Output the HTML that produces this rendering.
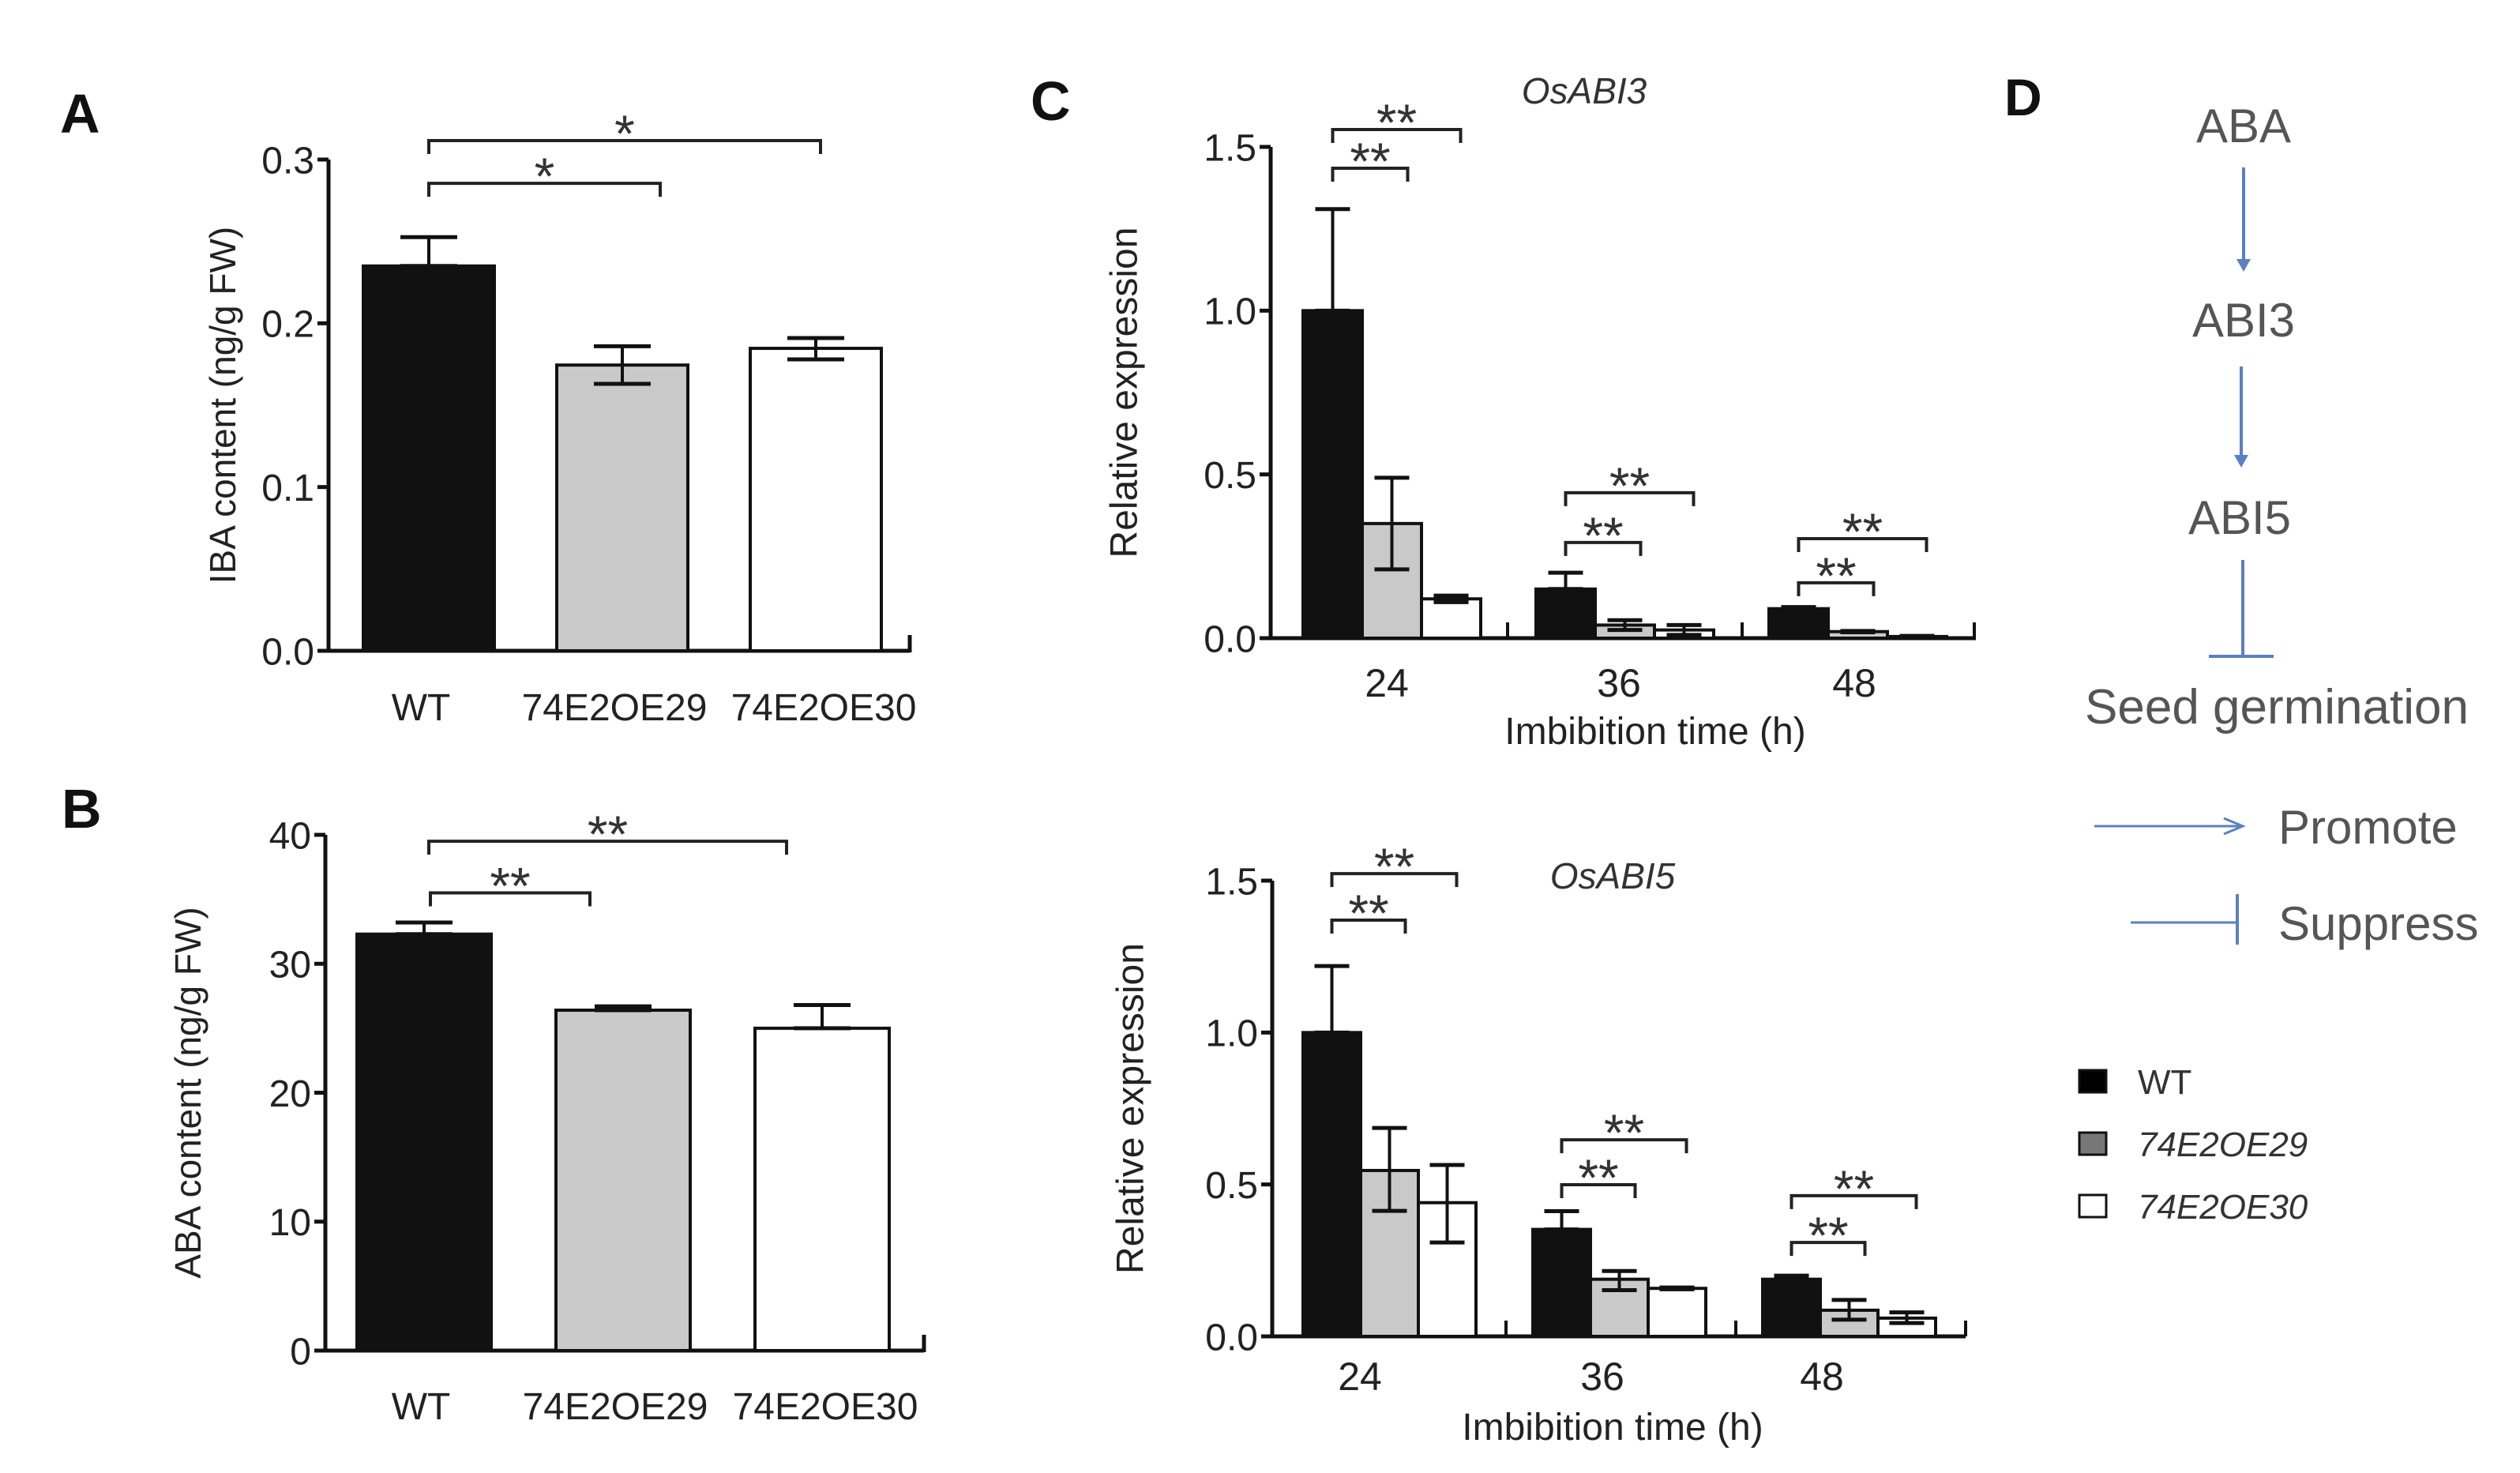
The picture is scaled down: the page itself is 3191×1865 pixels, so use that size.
<!DOCTYPE html>
<html><head><meta charset="utf-8"><style>
html,body{margin:0;padding:0;background:#fff}
svg{display:block}
text{font-family:"Liberation Sans",sans-serif}
</style></head><body>
<svg id="fig" width="3191" height="1865" viewBox="0 0 3191 1865" xmlns="http://www.w3.org/2000/svg">
<g id="root"></g>
</svg>
<script>
// ---- Panel A data (IBA) ----
const aCategories = ["WT", "74E2OE29", "74E2OE30"];
const aValues = [0.235, 0.1745, 0.1847];
const aErrHi = [0.2526, 0.186, 0.191];
const aErrLo = [0.235, 0.163, 0.178];
const aTicks = ["0.0", "0.1", "0.2", "0.3"];
const aTickValues = [0, 0.1, 0.2, 0.3];
// ---- Panel B data (ABA) ----
const bCategories = ["WT", "74E2OE29", "74E2OE30"];
const bValues = [32.3, 26.4, 25.0];
const bErrHi = [33.2, 26.7, 26.8];
const bErrLo = [32.3, 26.4, 25.0];
const bTicks = ["0", "10", "20", "30", "40"];
const bTickValues = [0, 10, 20, 30, 40];
// ---- Panel C data ----
const cGroups = ["24", "36", "48"];
const cSeries = ["WT", "74E2OE29", "74E2OE30"];
const abi3WT = [1.0, 0.15, 0.09];
const abi3OE29 = [0.35, 0.04, 0.02];
const abi3OE30 = [0.12, 0.025, 0.005];
const abi3ErrHi = [[1.31, 0.2, 0.095], [0.49, 0.055, 0.022], [0.13, 0.04, 0.007]];
const abi3ErrLo = [[1.0, 0.15, 0.09], [0.21, 0.025, 0.018], [0.11, 0.01, 0.004]];
const abi5WT = [1.0, 0.352, 0.188];
const abi5OE29 = [0.546, 0.188, 0.086];
const abi5OE30 = [0.44, 0.158, 0.06];
const abi5ErrHi = [[1.219, 0.412, 0.2], [0.686, 0.215, 0.12], [0.564, 0.161, 0.079]];
const abi5ErrLo = [[1.0, 0.352, 0.188], [0.413, 0.152, 0.055], [0.309, 0.155, 0.044]];
const cTicks = ["0.0", "0.5", "1.0", "1.5"];
const cTickValues = [0, 0.5, 1.0, 1.5];
// significance brackets: [fromSeries, toSeries, level]
const aBrackets = [[0, 1, 0.2855], [0, 2, 0.3116]];
const bBrackets = [[0, 1, 35.5], [0, 2, 39.5]];
const abi3Brackets = [[0, 0, 1, 1.435], [0, 0, 2, 1.553], [1, 0, 1, 0.292], [1, 0, 2, 0.444], [2, 0, 1, 0.169], [2, 0, 2, 0.304]];
const abi5Brackets = [[0, 0, 1, 1.37], [0, 0, 2, 1.523], [1, 0, 1, 0.499], [1, 0, 2, 0.647], [2, 0, 1, 0.309], [2, 0, 2, 0.463]];

const NS = "http://www.w3.org/2000/svg";
const root = document.getElementById("root");
const fills = ["#111", "#c9c9c9", "#fff"];
function mk(tag, attrs, parent, txt) {
  const e = document.createElementNS(NS, tag);
  for (const k in attrs) e.setAttribute(k, attrs[k]);
  if (txt !== undefined) e.textContent = txt;
  (parent || root).appendChild(e);
  return e;
}
function line(x1, y1, x2, y2, w, p, c) {
  return mk("line", {x1, y1, x2, y2, stroke: c || "#111", "stroke-width": w || 4}, p);
}
function bracket(x1, x2, y, p, stars) {
  const g = mk("g", {}, p);
  
  
  mk("path", {d: `M${x1},${y + 17} V${y} H${x2} V${y + 17}`, fill: "none", stroke: "#222", "stroke-width": 4}, g);
  const t = mk("text", {x: (x1 + x2) / 2, y: y + 14, "text-anchor": "middle", "font-size": 66, fill: "#333"}, g, stars);
  
  
}
function yAxis(p, x, yTop, yBot, vMax, ticks, tickVals, fs) {
  const ys = v => yBot - v / vMax * (yBot - yTop);
  const ax = line(x, yTop, x, yBot, 5, p);
  
  
  tickVals.forEach((v, i) => {
    line(x - 14, ys(v), x, ys(v), 5, p);
    const t = mk("text", {x: x - 18, y: ys(v) + fs * 0.36, "text-anchor": "end", "font-size": fs, fill: "#222"}, p, ticks[i]);
    
    
  });
  return ys;
}
function errBar(cx, yHi, yLo, half, p) {
  line(cx, yHi, cx, yLo, 4, p);
  line(cx - half, yHi, cx + half, yHi, 5, p);
  line(cx - half, yLo, cx + half, yLo, 5, p);
}
function panelLabel(txt, x, y, fs) {
  const t = mk("text", {x, y, "font-size": fs || 70, "font-weight": "bold", fill: "#111"}, root, txt);
  
  
}
function yTitle(txt, x, y, fs, p) {
  const t = mk("text", {x, y, "font-size": fs, "text-anchor": "middle", fill: "#222", transform: `rotate(-90 ${x} ${y})`, "dominant-baseline": "central"}, p, txt);
  
  
}

// ---------- Simple 3-bar panels ----------
function simplePanel(name, cfg) {
  const g = mk("g", {});
  
  
  const ys = yAxis(g, cfg.ax, cfg.yTop, cfg.yBot, cfg.vMax, cfg.ticks, cfg.tickVals, 48);
  const xa = line(cfg.ax - 6, cfg.yBot, cfg.xEnd, cfg.yBot, 5, g);
  
  
  line(cfg.xEnd, cfg.yBot - 20, cfg.xEnd, cfg.yBot + 2, 5, g);
  const cx = i => cfg.x0 + i * cfg.step + cfg.bw / 2;
  cfg.values.forEach((v, i) => {
    const r = mk("rect", {x: cfg.x0 + i * cfg.step, y: ys(v), width: cfg.bw, height: cfg.yBot - ys(v), fill: fills[i], stroke: "#111", "stroke-width": 4}, g);
    
    
    errBar(cx(i), ys(cfg.hi[i]), ys(cfg.lo[i]), 36, g);
    const t = mk("text", {x: cx(i) + cfg.labOff[i], y: cfg.labY, "text-anchor": "middle", "font-size": 48, fill: "#222"}, g, cfg.cats[i]);
    
    
  });
  cfg.brackets.forEach((b, k) => bracket(cx(b[0]) + cfg.bStart[k], cx(b[1]) + cfg.bEnd[k], ys(b[2]), g, cfg.stars));
  yTitle(cfg.title, cfg.titleX, (cfg.yTop + cfg.yBot) / 2, 46, g);
}
simplePanel("panel-a-iba-chart", {ax: 416, yTop: 202, yBot: 824, vMax: 0.3, ticks: aTicks, tickVals: aTickValues,
  xEnd: 1152, x0: 460, step: 245, bw: 166, values: aValues, hi: aErrHi, lo: aErrLo, cats: aCategories,
  labOff: [-10, -10, 10], labY: 912, brackets: aBrackets, bStart: [0, 0], bEnd: [48, 6], stars: "*", title: "IBA content (ng/g FW)", titleX: 282});
simplePanel("panel-b-aba-chart", {ax: 412, yTop: 1057, yBot: 1710, vMax: 40, ticks: bTicks, tickVals: bTickValues,
  xEnd: 1170, x0: 452, step: 252, bw: 170, values: bValues, hi: bErrHi, lo: bErrLo, cats: bCategories,
  labOff: [-4, -10, 4], labY: 1797, brackets: bBrackets, bStart: [8, 6], bEnd: [-42, -45], stars: "**", title: "ABA content (ng/g FW)", titleX: 238});
panelLabel("A", 76, 168);
panelLabel("B", 78, 1048);

// ---------- Grouped panels C ----------
function groupedPanel(name, cfg) {
  const g = mk("g", {});
  
  
  const ys = yAxis(g, cfg.ax, cfg.yTop, cfg.yBot, 1.5, cTicks, cTickValues, 48);
  const xa = line(cfg.ax - 6, cfg.yBot, cfg.xEnd, cfg.yBot, 5, g);
  
  
  cfg.dividers.forEach(dx => line(dx, cfg.yBot - 20, dx, cfg.yBot, 4, g));
  const bx = (gi, si) => cfg.x0 + gi * cfg.gstep + si * cfg.bw;
  const cx = (gi, si) => bx(gi, si) + cfg.bw / 2;
  cfg.series.forEach((arr, si) => {
    arr.forEach((v, gi) => {
      const r = mk("rect", {x: bx(gi, si), y: ys(v), width: cfg.bw, height: Math.max(cfg.yBot - ys(v), 0), fill: fills[si], stroke: "#111", "stroke-width": 4}, g);
      
      
      errBar(cx(gi, si), ys(cfg.hi[si][gi]), ys(cfg.lo[si][gi]), 22, g);
    });
  });
  cGroups.forEach((lab, gi) => {
    const t = mk("text", {x: cfg.labX[gi], y: cfg.labY, "text-anchor": "middle", "font-size": 50, fill: "#222"}, g, lab);
    
    
  });
  cfg.brackets.forEach(b => bracket(cx(b[0], b[1]), cx(b[0], b[2]) + (b[2] === 1 ? 20 : 12), ys(b[3]), g, "**"));
  const xt = mk("text", {x: cfg.xtX, y: cfg.xtY, "text-anchor": "middle", "font-size": 48, fill: "#222"}, g, "Imbibition time (h)");
  
  
  const gt = mk("text", {x: cfg.gtX, y: cfg.gtY, "text-anchor": "middle", "font-size": 46, "font-style": "italic", fill: "#333"}, g, cfg.gene);
  
  
  yTitle("Relative expression", cfg.ytX, (cfg.yTop + cfg.yBot) / 2, 48, g);
}
groupedPanel("panel-c-osabi3-chart", {ax: 1609, yTop: 186, yBot: 808, xEnd: 2502, dividers: [1909, 2206, 2500],
  x0: 1650, gstep: 295, bw: 75, series: [abi3WT, abi3OE29, abi3OE30], hi: abi3ErrHi, lo: abi3ErrLo,
  labX: [1756, 2050, 2348], labY: 882, brackets: abi3Brackets, xtX: 2096, xtY: 942, gtX: 2006, gtY: 131, gene: "OsABI3", ytX: 1424});
groupedPanel("panel-c-osabi5-chart", {ax: 1611, yTop: 1115, yBot: 1692, xEnd: 2489, dividers: [1907, 2198, 2489],
  x0: 1650, gstep: 291, bw: 73, series: [abi5WT, abi5OE29, abi5OE30], hi: abi5ErrHi, lo: abi5ErrLo,
  labX: [1722, 2029, 2307], labY: 1760, brackets: abi5Brackets, xtX: 2042, xtY: 1823, gtX: 2042, gtY: 1125, gene: "OsABI5", ytX: 1432});
panelLabel("C", 1305, 152);

// ---------- Panel D ----------
panelLabel("D", 2538, 146, 66);
const dg = mk("g", {});


const blue = "#5b7fc4";
function dText(txt, x, y, anchor, fs, name, italic, col) {
  const t = mk("text", {x, y, "text-anchor": anchor, "font-size": fs, fill: col || "#555", "font-style": italic ? "italic" : "normal"}, dg, txt);
  
  
}
dText("ABA", 2841, 180, "middle", 60, "node-aba");
line(2841, 212, 2841, 330, 4, dg, blue);
mk("path", {d: "M2832,328 L2850,328 L2841,344 Z", fill: blue}, dg);
dText("ABI3", 2841, 426, "middle", 60, "node-abi3");
line(2838, 464, 2838, 578, 4, dg, blue);
mk("path", {d: "M2829,576 L2847,576 L2838,592 Z", fill: blue}, dg);
dText("ABI5", 2836, 676, "middle", 60, "node-abi5");
line(2840, 709, 2840, 831, 4, dg, blue);
line(2797, 831, 2879, 831, 4, dg, blue);
dText("Seed germination", 2883, 916, "middle", 62, "node-seed-germination");
line(2652, 1046, 2838, 1046, 3, dg, blue);
mk("path", {d: "M2816,1036 L2840,1046 L2816,1056", fill: "none", stroke: blue, "stroke-width": 3}, dg);
dText("Promote", 2885, 1068, "start", 60, "legend-promote");
line(2698, 1168, 2833, 1168, 3, dg, blue);
line(2833, 1132, 2833, 1196, 4, dg, blue);
dText("Suppress", 2885, 1190, "start", 60, "legend-suppress");
// series legend
const legFills = ["#000", "#777", "#fff"];
const legY = [1369, 1448, 1527];
cSeries.forEach((s, i) => {
  const r = mk("rect", {x: 2633, y: legY[i] - 14, width: 34, height: 28, fill: legFills[i], stroke: "#111", "stroke-width": 3}, dg);
  
  
  dText(s, 2707, legY[i] + 16, "start", 44, 'legend-entry-' + s.toLowerCase(), i > 0, "#333");
});
</script>
</body></html>
